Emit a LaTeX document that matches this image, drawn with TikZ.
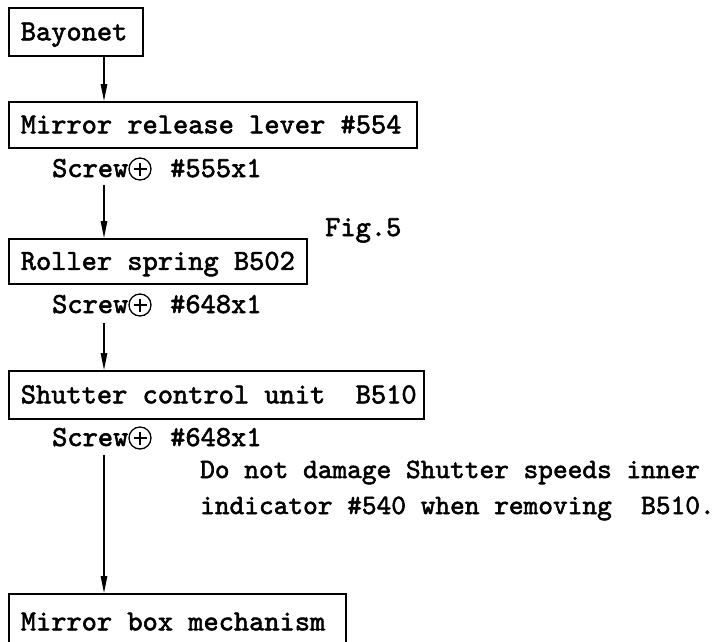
\documentclass[tikz,border=0pt]{standalone}
\usetikzlibrary{arrows.meta}
\font\twfont="[lmmono10-regular.otf]:embolden=2" at 29pt
\font\nofont="[lmmono10-regular.otf]:embolden=2" at 28pt
\newcommand\tw{\twfont}
\newcommand\nw{\nofont}
\newcommand\bt[2]{\makebox[#1][l]{#2}}
\begin{document}
\begin{tikzpicture}[x=1pt,y=-1pt,
  box/.style={draw, line width=1.6pt, inner xsep=12pt, inner ysep=0pt,
    anchor=north west, font=\tw, text height=17pt, text depth=0pt},
  lab/.style={inner sep=0pt, font=\tw, anchor=base west},
  note/.style={inner sep=0pt, font=\nw, anchor=base west},
  plus/.style={circle, draw, line width=1.3pt, minimum size=22pt, inner sep=0pt,
    path picture={
      \draw[line width=1.6pt] ([xshift=-6.5pt]path picture bounding box.center) -- ([xshift=6.5pt]path picture bounding box.center);
      \draw[line width=1.6pt] ([yshift=-6.5pt]path picture bounding box.center) -- ([yshift=6.5pt]path picture bounding box.center);}},
  flow/.style={line width=1.5pt, -{Triangle[length=17pt,width=6.5pt]}}]
\useasboundingbox (0,0) rectangle (717,641);
% boxes
\node[box, minimum height=48pt] (bay) at (8,7) {\bt{110pt}{Bayonet}};
\node[box, minimum height=46pt] (mrl) at (8,101) {\bt{384pt}{Mirror release lever \#554}};
\node[box, minimum height=45pt] (rsp) at (8,238) {\bt{274pt}{Roller spring B502}};
\node[box, minimum height=48pt] (scu) at (8,370) {\bt{391pt}{Shutter control unit\ \ B510}};
\node[box, minimum height=56pt] (mbm) at (8,593) {\bt{313pt}{Mirror box mechanism}};
% screw lines
\node[lab] (s1a) at (52,177) {Screw};
\node[plus] (s1b) at (140,169) {};
\node[lab] (s1c) at (170,177) {\#555x1};
\node[lab] (s2a) at (52,313) {Screw};
\node[plus] (s2b) at (140,305) {};
\node[lab] (s2c) at (170,313) {\#648x1};
\node[lab] (s3a) at (52,446) {Screw};
\node[plus] (s3b) at (140,438) {};
\node[lab] (s3c) at (170,446) {\#648x1};
% notes
\node[lab] (fig) at (325,236) {Fig.5};
\node[note] (n1) at (200,478) {Do not damage Shutter speeds inner};
\node[note] (n2) at (200,514) {indicator \#540 when removing\ \ B510.};
% arrows
\coordinate (ax) at (104,0);
\coordinate (a2) at (104,185);
\coordinate (a3) at (104,323);
\coordinate (a4) at (104,455);
\draw[flow] (bay.south -| ax) -- (mrl.north -| ax);
\draw[flow] (a2) -- (rsp.north -| ax);
\draw[flow] (a3) -- (scu.north -| ax);
\draw[flow] (a4) -- (mbm.north -| ax);
\end{tikzpicture}
\end{document}
